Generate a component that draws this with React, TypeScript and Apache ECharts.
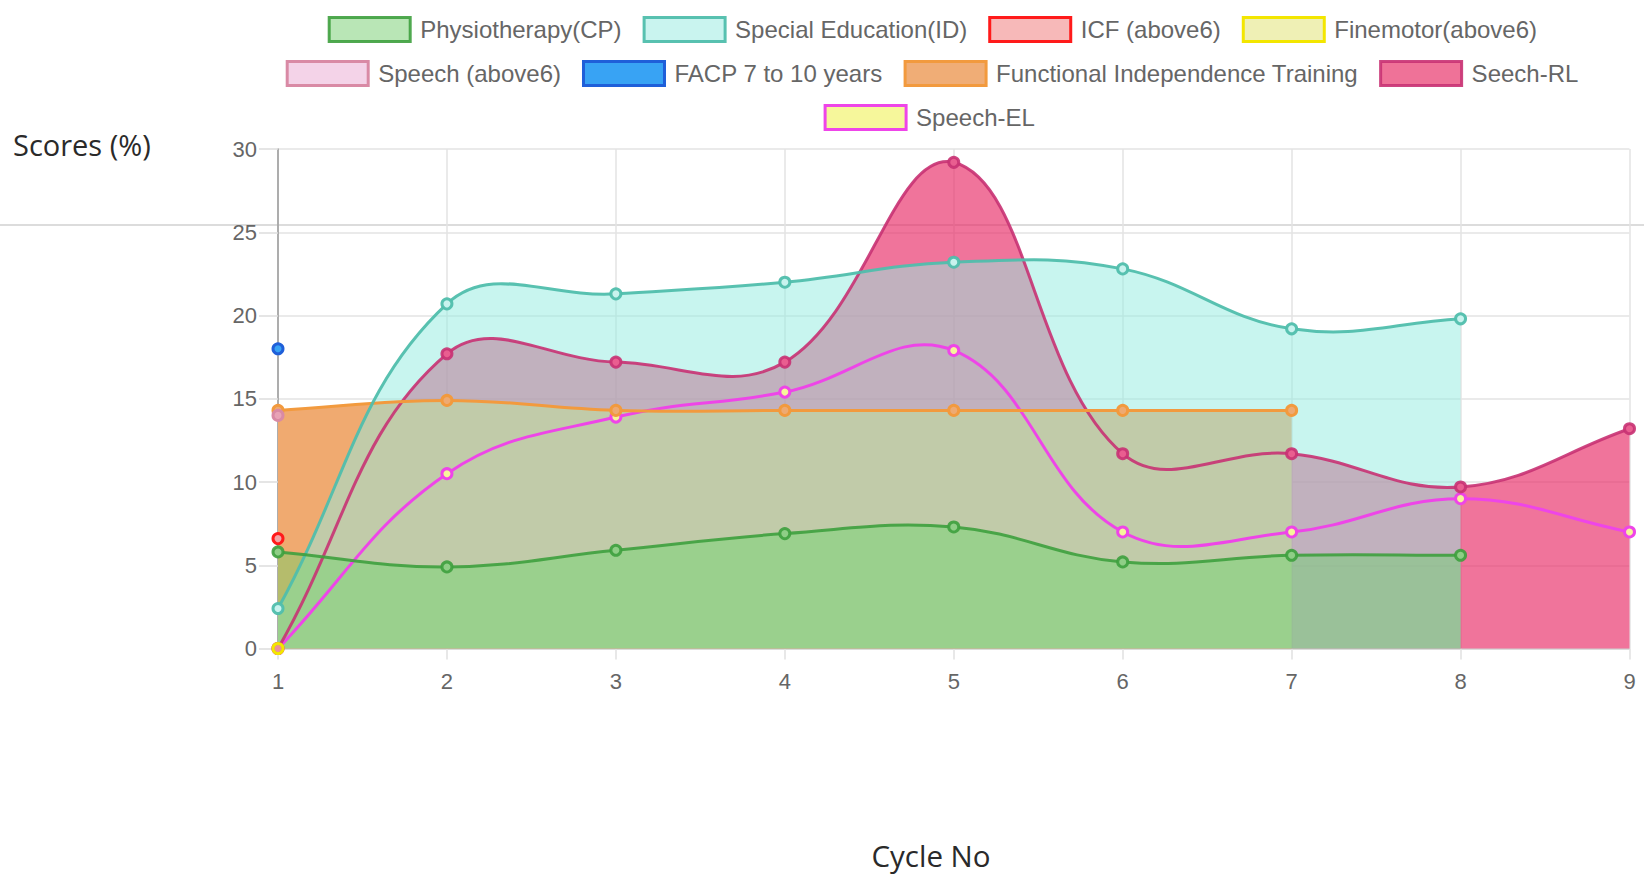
import React, { useEffect, useRef } from 'react';
import * as echarts from 'echarts';

// ---- data ----
const cycles = ['1', '2', '3', '4', '5', '6', '7', '8', '9'];
const physiotherapyCP = [5.8, 4.9, 5.9, 6.9, 7.3, 5.2, 5.6, 5.6];
const specialEducationID = [2.4, 20.7, 21.3, 22.0, 23.2, 22.8, 19.2, 19.8];
const icfAbove6 = [6.6];
const finemotorAbove6 = [0];
const speechAbove6 = [14.0];
const facp7to10 = [18.0];
const functionalIndependence = [14.3, 14.9, 14.3, 14.3, 14.3, 14.3, 14.3];
const seechRL = [0, 17.7, 17.2, 17.2, 29.2, 11.7, 11.7, 9.7, 13.2];
const speechEL = [0, 10.5, 13.9, 15.4, 17.9, 7.0, 7.0, 9.0, 7.0];

const seriesNames = [
  'Physiotherapy(CP)',
  'Special Education(ID)',
  'ICF (above6)',
  'Finemotor(above6)',
  'Speech (above6)',
  'FACP 7 to 10 years',
  'Functional Independence Training',
  'Seech-RL',
  'Speech-EL',
];
const seriesValues = [
  physiotherapyCP,
  specialEducationID,
  icfAbove6,
  finemotorAbove6,
  speechAbove6,
  facp7to10,
  functionalIndependence,
  seechRL,
  speechEL,
];
const yMin = 0;
const yMax = 30;
const yStep = 5;
const xTitle = 'Cycle No';
const yTitle = 'Scores (%)';

// ---- styles ----
const styles = [
  { line: 'rgba(62,160,62,0.9)', point: '#8fce86', legendFill: '#b9e6b6', area: 'rgba(100,214,102,0.42)' },
  { line: 'rgba(80,190,172,0.95)', point: '#c8f3ee', legendFill: '#c9f4ef', area: 'rgba(147,235,224,0.51)' },
  { line: '#ff1a1a', point: '#f2a5a5', legendFill: '#f7b9b9', area: null },
  { line: '#f3e600', point: 'rgba(240,240,170,0.35)', legendFill: '#eff0b5', area: null },
  { line: '#d98aa5', point: '#e8a3b6', legendFill: '#f4d3e8', area: null },
  { line: '#1f5fd9', point: '#38a3f4', legendFill: '#38a3f4', area: null },
  { line: '#f29a3e', point: '#eeaa72', legendFill: '#f0ad76', area: 'rgb(240,170,112)' },
  { line: 'rgba(200,50,115,0.9)', point: '#e95e90', legendFill: '#ef7298', area: 'rgba(232,42,102,0.65)' },
  { line: '#ee45e8', point: '#f6f59a', legendFill: '#f6f79b', area: null },
];

const FONT = '"Liberation Sans", Arial, sans-serif';
const TENSION = 0.4;

type Pt = number[];

function splinePath(pts: Pt[], rect: { x: number; y: number; width: number; height: number }): string {
  const n = pts.length;
  const cx = (v: number) => Math.min(Math.max(v, rect.x), rect.x + rect.width);
  const cy = (v: number) => Math.min(Math.max(v, rect.y), rect.y + rect.height);
  const cps = pts.map((p, i) => {
    const prev = i > 0 ? pts[i - 1] : p;
    const next = i < n - 1 ? pts[i + 1] : p;
    const d01 = Math.hypot(p[0] - prev[0], p[1] - prev[1]);
    const d12 = Math.hypot(next[0] - p[0], next[1] - p[1]);
    let s01 = d01 / (d01 + d12);
    let s12 = d12 / (d01 + d12);
    if (!isFinite(s01)) s01 = 0;
    if (!isFinite(s12)) s12 = 0;
    const fa = TENSION * s01;
    const fb = TENSION * s12;
    return {
      prev: [cx(p[0] - fa * (next[0] - prev[0])), cy(p[1] - fa * (next[1] - prev[1]))],
      next: [cx(p[0] + fb * (next[0] - prev[0])), cy(p[1] + fb * (next[1] - prev[1]))],
    };
  });
  let d = `M${pts[0][0]},${pts[0][1]}`;
  for (let i = 1; i < n; i++) {
    d += ` C${cps[i - 1].next[0]},${cps[i - 1].next[1]} ${cps[i].prev[0]},${cps[i].prev[1]} ${pts[i][0]},${pts[i][1]}`;
  }
  return d;
}

export default function App() {
  const ref = useRef<HTMLDivElement | null>(null);

  useEffect(() => {
    if (!ref.current) return;
    const chart = echarts.init(ref.current, undefined, { renderer: 'svg' });
    const n = seriesNames.length;

    const legendItem = (i: number) => ({
      name: seriesNames[i],
      itemStyle: { color: styles[i].legendFill, borderColor: styles[i].line, borderWidth: 3 },
    });
    const legendBase = {
      orient: 'horizontal',
      padding: 0,
      itemWidth: 81,
      itemHeight: 24,
      itemGap: 21,
      icon: 'rect',
      selectedMode: false,
      textStyle: { fontSize: 24, color: '#666', fontFamily: FONT, lineHeight: 24, padding: [0, 0, 0, 5] },
    };

    const areaSeries: any[] = [];
    const lineSeries: any[] = [];
    seriesValues.forEach((vals, i) => {
      const st = styles[i];
      const data = vals.map((v, k) => [k, v]);
      if (st.area && vals.length > 1) {
        areaSeries.push({
          type: 'custom',
          name: seriesNames[i],
          coordinateSystem: 'cartesian2d',
          data,
          encode: { x: 0, y: 1 },
          silent: true,
          z: 1 + (n - i) * 0.1,
          renderItem: (params: any, api: any) => {
            if (params.dataIndex !== 0) return { type: 'group', children: [] };
            const pts = vals.map((v, k) => api.coord([k, v]));
            const baseY = api.coord([0, 0])[1];
            const d =
              splinePath(pts, params.coordSys) +
              ` L${pts[pts.length - 1][0]},${baseY} L${pts[0][0]},${baseY} Z`;
            return { type: 'path', shape: { pathData: d }, style: { fill: st.area, stroke: 'none' } };
          },
        });
      }
      lineSeries.push({
        type: 'custom',
        name: seriesNames[i],
        coordinateSystem: 'cartesian2d',
        data,
        encode: { x: 0, y: 1 },
        z: 3 + (n - i) * 0.1,
        renderItem: (params: any, api: any) => {
          const children: any[] = [];
          if (params.dataIndex === 0 && vals.length > 1) {
            const pts = vals.map((v, k) => api.coord([k, v]));
            children.push({
              type: 'path',
              shape: { pathData: splinePath(pts, params.coordSys) },
              style: { fill: 'none', stroke: st.line, lineWidth: 3 },
            });
          }
          const c = api.coord([api.value(0), api.value(1)]);
          children.push({
            type: 'circle',
            shape: { cx: c[0], cy: c[1], r: 5 },
            style: { fill: st.point, stroke: st.line, lineWidth: 3 },
          });
          return { type: 'group', children };
        },
      });
    });

    chart.setOption({
      animation: false,
      grid: { left: 278, right: 14.5, top: 149, bottom: 227.5, containLabel: false },
      legend: [
        { ...legendBase, left: 327.7, top: 16, data: [0, 1, 2, 3].map(legendItem) },
        { ...legendBase, left: 285.7, top: 60, data: [4, 5, 6, 7].map(legendItem) },
        { ...legendBase, left: 823.6, top: 104, data: [8].map(legendItem) },
      ],
      xAxis: {
        type: 'category',
        data: cycles,
        boundaryGap: false,
        axisLine: { show: true, lineStyle: { color: '#d6d6d6', width: 1.5 } },
        axisTick: { show: true, length: 11, interval: 0, lineStyle: { color: '#e0e0e0', width: 1.5 } },
        axisLabel: { color: '#666', fontSize: 22, fontFamily: FONT, margin: 22, interval: 0 },
        splitLine: { show: true, interval: 0, lineStyle: { color: '#e3e3e3', width: 1.5 } },
      },
      yAxis: {
        type: 'value',
        min: yMin,
        max: yMax,
        interval: yStep,
        axisLine: { show: true, lineStyle: { color: '#999', width: 1.5 } },
        axisTick: { show: true, length: 19, lineStyle: { color: '#dcdcdc', width: 1.5 } },
        axisLabel: { color: '#666', fontSize: 22, fontFamily: FONT, margin: 21 },
        splitLine: { show: true, lineStyle: { color: '#e3e3e3', width: 1.5 } },
      },
      graphic: [
        {
          type: 'line',
          shape: { x1: 0, y1: 225, x2: 1644, y2: 225 },
          style: { stroke: '#dcdcdc', lineWidth: 2 },
          z: 0,
          silent: true,
        },
        {
          type: 'text',
          x: 13,
          y: 144,
          style: { text: yTitle, fontSize: 29, fontFamily: '"Open Sans", sans-serif', fill: '#2a2a2a', align: 'left', verticalAlign: 'middle' },
        },
        {
          type: 'text',
          x: 931,
          y: 855,
          style: { text: xTitle, fontSize: 29.5, fontFamily: '"Open Sans", sans-serif', fill: '#2a2a2a', align: 'center', verticalAlign: 'middle' },
        },
      ],
      series: [...areaSeries, ...lineSeries],
    });

    return () => {
      chart.dispose();
    };
  }, []);

  return (
    <div
      ref={ref}
      style={{ position: 'absolute', left: 0, top: 0, width: 1644, height: 876, background: '#fff' }}
    />
  );
}
